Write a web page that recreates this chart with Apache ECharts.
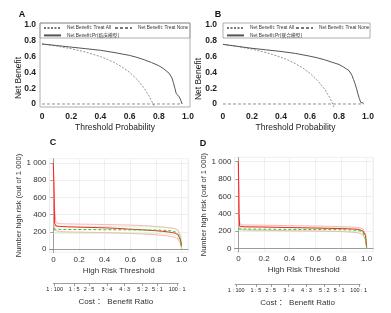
<!DOCTYPE html>
<html>
<head>
<meta charset="utf-8">
<script src="https://cdn.jsdelivr.net/npm/echarts@6/dist/echarts.min.js"></script>
<style>
html,body{margin:0;padding:0;background:#fff}
#chart{width:391px;height:313px}
</style>
</head>
<body>
<div id="chart"></div>
<script>
// ---- panel A: decision curve (clinical model)
var allXA = [0, 0.1, 0.2, 0.3, 0.4, 0.45, 0.5, 0.55, 0.6, 0.65, 0.7, 0.73, 0.75, 0.77];
var allA = [0.76, 0.733, 0.70, 0.657, 0.60, 0.564, 0.52, 0.467, 0.40, 0.314, 0.20, 0.11, 0.04, -0.03];
var modelXA = [0, 0.1, 0.2, 0.3, 0.4, 0.5, 0.6, 0.65, 0.7, 0.75, 0.8, 0.83, 0.85, 0.87, 0.88, 0.89, 0.9, 0.91, 0.92, 0.925, 0.93, 0.94, 0.95, 0.955, 0.96];
var modelA = [0.76, 0.74, 0.72, 0.70, 0.68, 0.65, 0.615, 0.59, 0.56, 0.525, 0.485, 0.45, 0.42, 0.39, 0.37, 0.33, 0.27, 0.2, 0.13, 0.15, 0.11, 0.09, 0.05, 0.06, 0.0];
var noneXA = [0, 0.96];
var noneA = [0, 0];

// ---- panel B: decision curve (combined model)
var allXB = [0, 0.1, 0.2, 0.3, 0.4, 0.45, 0.5, 0.55, 0.6, 0.65, 0.7, 0.73, 0.75, 0.765];
var allB = [0.755, 0.728, 0.694, 0.65, 0.592, 0.555, 0.51, 0.456, 0.388, 0.30, 0.19, 0.10, 0.03, -0.04];
var modelXB = [0, 0.1, 0.2, 0.3, 0.4, 0.5, 0.6, 0.65, 0.7, 0.75, 0.8, 0.83, 0.85, 0.87, 0.88, 0.89, 0.9, 0.91, 0.92, 0.93, 0.94, 0.95, 0.96, 0.97];
var modelB = [0.755, 0.73, 0.705, 0.685, 0.665, 0.64, 0.605, 0.585, 0.56, 0.53, 0.5, 0.47, 0.445, 0.42, 0.40, 0.36, 0.31, 0.26, 0.2, 0.13, 0.07, 0.02, 0.015, 0.01];
var noneXB = [0, 0.97];
var noneB = [0, 0];

var nameAll = 'Net Benefit: Treat All';
var nameNone = 'Net Benefit: Treat None';
var nameModelA = 'Net Benefit:Pr(临床模型)';
var nameModelB = 'Net Benefit:Pr(联合模型)';

// ---- panels C / D: clinical impact curves
var riskX = [0, 0.005, 0.01, 0.02, 0.05, 0.1, 0.2, 0.3, 0.4, 0.5, 0.6, 0.7, 0.8, 0.85, 0.9, 0.93, 0.95, 0.97, 0.98, 0.99, 1.0];
var highC = [1000, 700, 300, 268, 262, 258, 254, 250, 246, 239, 230, 222, 212, 205, 197, 190, 182, 168, 150, 110, 30];
var highHiC = [1000, 1000, 460, 305, 294, 291, 289, 287, 284, 281, 278, 272, 262, 255, 246, 240, 233, 220, 200, 150, 60];
var highLoC = [1000, 300, 215, 204, 201, 199, 196, 193, 190, 186, 181, 174, 165, 158, 150, 142, 132, 115, 95, 60, 0];
var eventC = [232, 231, 230, 229, 228, 227, 226, 225, 224, 223, 222, 221, 220, 218, 214, 208, 198, 175, 150, 100, 10];
var eventHiC = [268, 267, 266, 265, 264, 263, 262, 261, 260, 259, 258, 257, 256, 254, 250, 245, 238, 220, 195, 140, 40];
var eventLoC = [186, 186, 185, 185, 184, 184, 183, 183, 182, 182, 181, 180, 178, 176, 172, 166, 158, 138, 115, 70, 0];

var highD = [1000, 400, 255, 250, 249, 248, 246, 243, 240, 237, 234, 231, 228, 226, 222, 218, 212, 200, 185, 150, 20];
var highHiD = [1000, 1000, 300, 272, 270, 269, 267, 265, 262, 260, 257, 254, 250, 248, 245, 240, 235, 225, 210, 170, 50];
var highLoD = [1000, 230, 215, 212, 211, 210, 208, 206, 204, 202, 200, 197, 193, 190, 185, 180, 172, 158, 140, 100, 0];
var eventD = [225, 224, 224, 223, 223, 222, 221, 220, 219, 218, 217, 216, 215, 214, 211, 207, 200, 185, 165, 120, 5];
var eventHiD = [245, 245, 244, 244, 243, 243, 242, 241, 240, 239, 238, 237, 236, 235, 232, 228, 222, 210, 190, 150, 30];
var eventLoD = [205, 204, 204, 203, 203, 202, 201, 200, 199, 198, 197, 196, 195, 193, 189, 184, 176, 160, 140, 95, 0];

var nbTicks = [0, 0.2, 0.4, 0.6, 0.8, 1.0];
var riskTicksY = [0, 200, 400, 600, 800, 1000];
var costTicks = [0.01, 0.167, 0.286, 0.429, 0.571, 0.714, 0.833, 0.99];
var costLabels = ['1 : 100', '1 : 5', '2 : 5', '3 : 4', '4 : 3', '5 : 2', '5 : 1', '100 : 1'];

var FONT = "'Liberation Sans', Arial, 'Noto Sans CJK SC', sans-serif";

function pairs(xs, ys) {
  return xs.map(function (x, i) { return [x, ys[i]]; });
}
function fmtNB(v) {
  return v === 0 ? '0' : v.toFixed(1);
}
function fmtRisk(v) {
  return v === 1000 ? '1 000' : String(v);
}
function fmtCost(v) {
  return costLabels[costTicks.indexOf(v)];
}

function nbX(grid) {
  return {
    type: 'value', gridIndex: grid, min: -0.0137, max: 1.0137,
    axisLine: {show: false}, axisTick: {show: false}, splitLine: {show: false},
    axisLabel: {customValues: nbTicks, formatter: fmtNB, fontSize: 8.5, fontWeight: 'bold', color: '#222', margin: 5, fontFamily: FONT},
    name: 'Threshold Probability', nameLocation: 'middle', nameGap: 16,
    nameTextStyle: {fontSize: 8.5, color: '#222', fontFamily: FONT}
  };
}
function nbY(grid) {
  return {
    type: 'value', gridIndex: grid, min: -0.038, max: 1.0253,
    axisLine: {show: false}, axisTick: {show: false}, splitLine: {show: false},
    axisLabel: {customValues: nbTicks, formatter: fmtNB, fontSize: 8.5, fontWeight: 'bold', color: '#222', margin: 4, fontFamily: FONT}
  };
}
function riskX_(grid) {
  return {
    type: 'value', gridIndex: grid, min: -0.03, max: 1.05,
    axisLine: {show: true, lineStyle: {color: '#888', width: 0.8}},
    axisTick: {show: false},
    splitLine: {show: true, lineStyle: {color: '#ececec', width: 0.8}},
    axisLabel: {customValues: nbTicks, formatter: fmtNB, fontSize: 8, color: '#333', margin: 3, fontFamily: FONT},
    name: 'High Risk Threshold', nameLocation: 'middle', nameGap: 14,
    nameTextStyle: {fontSize: 8, color: '#333', fontFamily: FONT}
  };
}
function riskY(grid) {
  return {
    type: 'value', gridIndex: grid, min: -40, max: 1050,
    axisLine: {show: true, lineStyle: {color: '#888', width: 0.8}},
    axisTick: {show: true, customValues: riskTicksY, length: 3, lineStyle: {color: '#888', width: 0.8}},
    splitLine: {show: true, lineStyle: {color: '#ececec', width: 0.8}},
    axisLabel: {customValues: riskTicksY, formatter: fmtRisk, fontSize: 8, color: '#333', margin: 3, fontFamily: FONT},
    name: 'Number high risk (out of 1 000)', nameLocation: 'middle', nameGap: 26,
    nameTextStyle: {fontSize: 7.5, color: '#333', fontFamily: FONT}
  };
}
function costX(grid) {
  return {
    type: 'value', gridIndex: grid, min: 0, max: 1, position: 'bottom',
    axisLine: {show: true, lineStyle: {color: '#888', width: 0.8}},
    axisTick: {show: true, customValues: costTicks, length: 3, lineStyle: {color: '#888', width: 0.8}},
    splitLine: {show: false},
    axisLabel: {customValues: costTicks, formatter: fmtCost, fontSize: 5.5, color: '#222', margin: 4, fontFamily: FONT},
    name: 'Cost ： Benefit Ratio', nameLocation: 'middle', nameGap: 15,
    nameTextStyle: {fontSize: 8, color: '#333', fontFamily: FONT}
  };
}
function hiddenY(grid) {
  return {type: 'value', gridIndex: grid, show: false};
}

function line(name, xi, data, color, width, type) {
  return {
    name: name, type: 'line', xAxisIndex: xi, yAxisIndex: xi, data: data,
    symbol: 'none', silent: true, animation: false, color: color,
    itemStyle: {color: color},
    lineStyle: {color: color, width: width, type: type}
  };
}

function nbLegend(name, left, top) {
  return {
    data: [name], left: left, top: top, padding: 0, itemWidth: 17, itemHeight: 4, itemGap: 2,
    itemStyle: {color: 'rgba(0,0,0,0)', borderWidth: 0},
    textStyle: {fontSize: 4.8, color: '#333', fontFamily: FONT, padding: [0, 0, 0, 1]},
    selectedMode: false
  };
}

function panelLetter(t, x, y) {
  return {type: 'text', x: x, y: y, style: {text: t, fill: '#111', font: 'bold 9px ' + FONT, textAlign: 'center', textVerticalAlign: 'middle'}};
}
function sideTitle(t, x, y) {
  return {type: 'text', x: x, y: y, rotation: Math.PI / 2, style: {text: t, fill: '#222', font: '8.5px ' + FONT, textAlign: 'center', textVerticalAlign: 'middle'}};
}

var myChart = echarts.init(document.getElementById('chart'), null, {renderer: 'canvas'});
var option = {
  animation: false,
  backgroundColor: '#fff',
  grid: [
    {left: 40, top: 23, width: 150, height: 84, show: true, borderColor: '#999', borderWidth: 0.8, outerBoundsMode: 'none'},
    {left: 221, top: 23, width: 149, height: 84, outerBoundsMode: 'none'},
    {left: 49.5, top: 158.7, width: 138.6, height: 93.7, show: true, borderColor: '#ececec', borderWidth: 0.8, outerBoundsMode: 'none'},
    {left: 234.5, top: 157.4, width: 138.6, height: 94.4, show: true, borderColor: '#ececec', borderWidth: 0.8, outerBoundsMode: 'none'},
    {left: 53.3, top: 282, width: 125, height: 1, outerBoundsMode: 'none'},
    {left: 235, top: 283, width: 125, height: 1, outerBoundsMode: 'none'}
  ],
  xAxis: [nbX(0), nbX(1), riskX_(2), riskX_(3), costX(4), costX(5)],
  yAxis: [nbY(0), nbY(1), riskY(2), riskY(3), hiddenY(4), hiddenY(5)],
  legend: [
    nbLegend(nameAll, 43, 25.5), nbLegend(nameNone, 114, 25.5), nbLegend(nameModelA, 43, 33),
    nbLegend(nameAll, 226, 25.5), nbLegend(nameNone, 295, 25.5), nbLegend(nameModelB, 226, 33)
  ],
  graphic: [
    {type: 'rect', shape: {x: 40, y: 23, width: 150, height: 15}, style: {fill: 'none', stroke: '#999', lineWidth: 0.8}, z: 100},
    {type: 'rect', shape: {x: 223, y: 23, width: 147, height: 15}, style: {fill: 'none', stroke: '#999', lineWidth: 0.8}, z: 100},
    panelLetter('A', 22, 15), panelLetter('B', 218, 15), panelLetter('C', 53, 143), panelLetter('D', 203, 144),
    sideTitle('Net Benefit', 19, 78), sideTitle('Net Benefit', 199, 79)
  ],
  series: [
    line(nameAll, 0, pairs(allXA, allA), '#777', 0.8, [2, 1.5]),
    line(nameNone, 0, pairs(noneXA, noneA), '#777', 0.8, [3, 2]),
    line(nameModelA, 0, pairs(modelXA, modelA), '#555', 1, 'solid'),
    line(nameAll, 1, pairs(allXB, allB), '#777', 0.8, [2, 1.5]),
    line(nameNone, 1, pairs(noneXB, noneB), '#777', 0.8, [3, 2]),
    line(nameModelB, 1, pairs(modelXB, modelB), '#555', 1, 'solid'),

    line('high risk upper', 2, pairs(riskX, highHiC), '#ffaaaa', 0.9, 'solid'),
    line('high risk lower', 2, pairs(riskX, highLoC), '#ffaaaa', 0.9, 'solid'),
    line('event upper', 2, pairs(riskX, eventHiC), '#a8e6a0', 0.9, [1, 1]),
    line('event lower', 2, pairs(riskX, eventLoC), '#a8e6a0', 0.9, [1, 1]),
    line('Number high risk', 2, pairs(riskX, highC), '#ff2020', 1, 'solid'),
    line('Number high risk with event', 2, pairs(riskX, eventC), '#22cc22', 1, [3, 2]),

    line('high risk upper', 3, pairs(riskX, highHiD), '#ffaaaa', 0.9, 'solid'),
    line('high risk lower', 3, pairs(riskX, highLoD), '#ffaaaa', 0.9, 'solid'),
    line('event upper', 3, pairs(riskX, eventHiD), '#a8e6a0', 0.9, [1, 1]),
    line('event lower', 3, pairs(riskX, eventLoD), '#a8e6a0', 0.9, [1, 1]),
    line('Number high risk', 3, pairs(riskX, highD), '#ff2020', 1, 'solid'),
    line('Number high risk with event', 3, pairs(riskX, eventD), '#22cc22', 1, [3, 2])
  ]
};
myChart.setOption(option);
</script>
</body>
</html>
